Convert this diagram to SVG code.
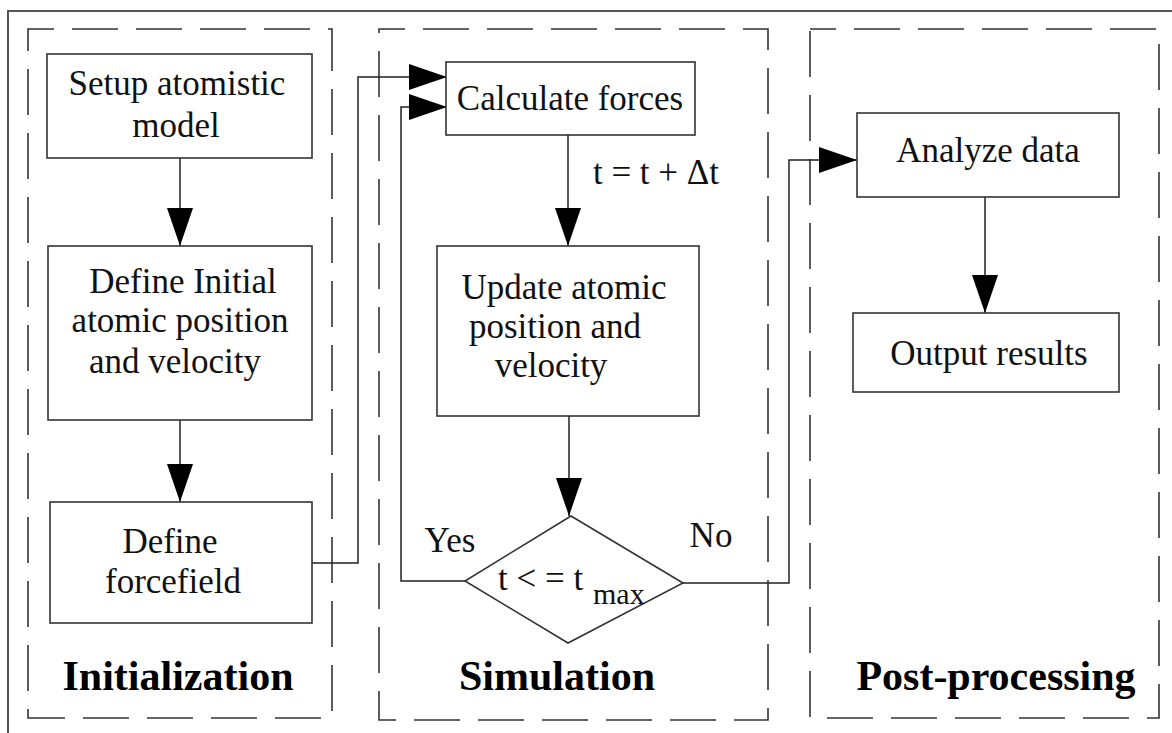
<svg xmlns="http://www.w3.org/2000/svg" width="1172" height="733" viewBox="0 0 1172 733">
<defs>
<marker id="ah" markerUnits="userSpaceOnUse" markerWidth="40" markerHeight="28" refX="38" refY="13" orient="auto">
<path d="M0,0 L38,13 L0,26 Z" fill="#000"/>
</marker>
<style>
.frame{fill:none;stroke:#555;stroke-width:2}
.panel{fill:none;stroke:#333;stroke-width:1.6;stroke-dasharray:46 18;stroke-dashoffset:20}
.box{fill:#fff;stroke:#333;stroke-width:1.6}
.conn{fill:none;stroke:#222;stroke-width:1.5}
.t{font-family:"Liberation Serif","Times New Roman",serif;font-size:35px;fill:#111;text-anchor:middle}
.sub{font-size:30px}
.title{font-family:"Liberation Serif","Times New Roman",serif;font-size:42px;font-weight:bold;fill:#000;text-anchor:middle}
</style>
</defs>
<rect x="0" y="0" width="1172" height="733" fill="#fff"/>
<rect class="frame" x="8" y="11" width="1180" height="740"/>

<g id="panel-init">
<rect class="panel" x="28" y="29" width="304" height="689"/>
<text class="title" x="178" y="690">Initialization</text>
</g>
<g id="panel-sim">
<rect class="panel" x="379" y="29" width="389" height="691"/>
<text class="title" x="557" y="690">Simulation</text>
</g>
<g id="panel-post">
<rect class="panel" x="810" y="29" width="349" height="689"/>
<text class="title" x="996" y="690">Post-processing</text>
</g>

<g id="connectors">
<line class="conn" x1="180" y1="158" x2="180" y2="246" marker-end="url(#ah)"/>
<line class="conn" x1="180" y1="420" x2="180" y2="502" marker-end="url(#ah)"/>
<polyline class="conn" points="312,563 358,563 358,77 447,77" marker-end="url(#ah)"/>
<line class="conn" x1="568" y1="135" x2="568" y2="246" marker-end="url(#ah)"/>
<line class="conn" x1="569" y1="416" x2="569" y2="516" marker-end="url(#ah)"/>
<polyline class="conn" points="465,581 401,581 401,107 447,107" marker-end="url(#ah)"/>
<polyline class="conn" points="683,583 789,583 789,160 857,160" marker-end="url(#ah)"/>
<line class="conn" x1="985" y1="197" x2="985" y2="313" marker-end="url(#ah)"/>
<text class="t" x="656" y="184">t = t + Δt</text>
<text class="t" x="450" y="552">Yes</text>
<text class="t" x="711" y="547">No</text>
</g>

<g id="setup">
<rect class="box" x="47" y="54" width="265" height="104"/>
<text class="t" x="177" y="95">Setup atomistic</text>
<text class="t" x="176" y="137">model</text>
</g>
<g id="define-initial">
<rect class="box" x="48" y="246" width="264" height="174"/>
<text class="t" x="183" y="293">Define Initial</text>
<text class="t" x="180" y="332">atomic position</text>
<text class="t" x="175" y="373">and velocity</text>
</g>
<g id="define-forcefield">
<rect class="box" x="50" y="502" width="262" height="121"/>
<text class="t" x="170" y="553">Define</text>
<text class="t" x="173" y="593">forcefield</text>
</g>
<g id="calc-forces">
<rect class="box" x="446" y="62" width="249" height="73"/>
<text class="t" x="570" y="110">Calculate forces</text>
</g>
<g id="update">
<rect class="box" x="437" y="246" width="262" height="170"/>
<text class="t" x="564" y="299">Update atomic</text>
<text class="t" x="555" y="338">position and</text>
<text class="t" x="551" y="377">velocity</text>
</g>
<g id="decision">
<polygon class="box" points="571,516 683,583 568,643 465,581"/>
<text class="t" x="498" y="590" style="text-anchor:start">t &lt; = t</text>
<text class="t sub" x="593" y="604" style="text-anchor:start">max</text>
</g>
<g id="analyze">
<rect class="box" x="857" y="113" width="262" height="84"/>
<text class="t" x="988" y="162">Analyze data</text>
</g>
<g id="output">
<rect class="box" x="853" y="313" width="266" height="79"/>
<text class="t" x="989" y="365">Output results</text>
</g>
</svg>
